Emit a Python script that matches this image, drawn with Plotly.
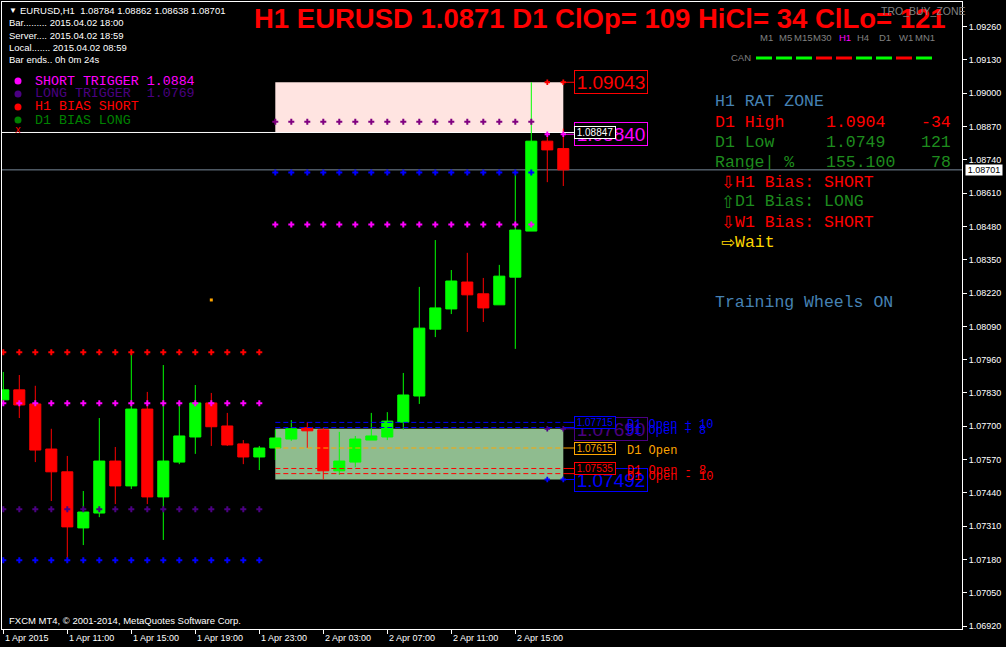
import pandas as pd
import plotly.graph_objects as go

# ------------------------------------------------------------------ data
symbol = "EURUSD"
bar_start = "2015-04-01 07:00"          # first visible H1 bar

opens = [1.07803, 1.07842, 1.07787, 1.07611, 1.07522, 1.07303, 1.07361, 1.07564, 1.07467, 1.07767,
         1.07424, 1.07560, 1.07658, 1.07791, 1.07701, 1.07631, 1.07580, 1.07615, 1.07650, 1.07694,
         1.07686, 1.07526, 1.07560, 1.07646, 1.07658, 1.07716, 1.07818, 1.08079, 1.08158, 1.08263,
         1.08217, 1.08174, 1.08282, 1.08462, 1.08813, 1.08784]
highs = [1.07912, 1.07900, 1.07858, 1.07690, 1.07584, 1.07447, 1.07732, 1.07619, 1.07986, 1.07834,
         1.07939, 1.07791, 1.07861, 1.07830, 1.07752, 1.07646, 1.07623, 1.07686, 1.07724, 1.07716,
         1.07694, 1.07678, 1.07662, 1.07752, 1.07755, 1.07908, 1.08244, 1.08427, 1.08310, 1.08377,
         1.08279, 1.08330, 1.08681, 1.09043, 1.08847, 1.08862]
lows = [1.07791, 1.07732, 1.07560, 1.07408, 1.07185, 1.07236, 1.07345, 1.07396, 1.07455, 1.07396,
        1.07256, 1.07552, 1.07592, 1.07623, 1.07623, 1.07552, 1.07529, 1.07568, 1.07643, 1.07615,
        1.07492, 1.07510, 1.07540, 1.07646, 1.07646, 1.07686, 1.07787, 1.08048, 1.08138, 1.08068,
        1.08107, 1.08174, 1.08002, 1.08462, 1.08653, 1.08638]
closes = [1.07842, 1.07783, 1.07607, 1.07522, 1.07307, 1.07365, 1.07564, 1.07467, 1.07767, 1.07424,
          1.07564, 1.07662, 1.07791, 1.07698, 1.07627, 1.07580, 1.07615, 1.07654, 1.07690, 1.07682,
          1.07526, 1.07564, 1.07650, 1.07662, 1.07720, 1.07822, 1.08083, 1.08162, 1.08267, 1.08213,
          1.08162, 1.08286, 1.08466, 1.08813, 1.08779, 1.08701]

# daily levels
d1_open = 1.07615
d1_high = 1.09043
d1_low = 1.07492
short_trigger = 1.08840
long_trigger = 1.07690
short_zone_floor = 1.08847
day_first_bar = 17                     # 2 Apr 00:00

# dotted indicator rows
dots_left_bars = (0, 16)
dots_left_levels = [1.07989, 1.07790, 1.07376, 1.07177]
dots_left_colors = ["#FF0000", "#FF00FF", "#4B0082", "#0000FF"]
dots_right_bars = (17, 33)
dots_right_levels = [1.08889, 1.08691, 1.08488]
dots_right_colors = ["#800080", "#0000FF", "#FF00FF"]
dots_last_bars = (34, 35)
dots_last_levels = [d1_high, short_trigger, long_trigger, d1_low]
dots_last_colors = ["#FF0000", "#FF00FF", "#4B0082", "#0000FF"]
signal_bar, signal_price = 13, 1.08193

# D1 open offset lines
open_lines = [1.07715, 1.07695, 1.07615, 1.07535, 1.07515]
open_line_texts = ["D1 Open + 10", "D1 Open + 8", "D1 Open", "D1 Open - 8", "D1 Open - 10"]
open_line_colors = ["#0000FF", "#0000FF", "#FFA500", "#FF0000", "#FF0000"]
open_line_boxed = [True, False, True, True, False]

# axes
y_ticks = [1.06920, 1.07050, 1.07180, 1.07310, 1.07440, 1.07570, 1.07700, 1.07830, 1.07960,
           1.08090, 1.08220, 1.08350, 1.08480, 1.08610, 1.08740, 1.08870, 1.09000, 1.09130, 1.09260]
x_tick_labels = ["1 Apr 2015", "1 Apr 11:00", "1 Apr 15:00", "1 Apr 19:00", "1 Apr 23:00",
                 "2 Apr 03:00", "2 Apr 07:00", "2 Apr 11:00", "2 Apr 15:00"]
y_range = (1.069083, 1.093564)

# panel texts
title_text = "H1 EURUSD 1.0871 D1 ClOp= 109 HiCl= 34 ClLo= 121"
legend_items = ["SHORT TRIGGER 1.0884", "LONG TRIGGER  1.0769", "H1 BIAS SHORT", "D1 BIAS LONG"]
legend_colors = ["#FF00FF", "#4B0082", "#FF0000", "#008000"]
tf_labels = ["M1", "M5", "M15", "M30", "H1", "H4", "D1", "W1", "MN1"]
tf_can_colors = ["#00FF00", "#00FF00", "#00FF00", "#FF0000", "#FF0000", "#00FF00", "#00FF00", "#FF0000", "#00FF00"]
rat_rows = [("D1 High", "1.0904", "-34"), ("D1 Low", "1.0749", "121"), ("Range| %", "155.100", "78")]
rat_colors = ["#FF0000", "#1E8C1E", "#1E8C1E"]
bias_rows = [("⇩", "H1 Bias: SHORT", "#FF0000"), ("⇧", "D1 Bias: LONG", "#1E8C1E"),
             ("⇩", "W1 Bias: SHORT", "#FF0000"), ("⇨", "Wait", "#FFD700")]

# ------------------------------------------------------------------ layout geometry
W, H = 1006, 647
PL, PR, PT, PB = 2, 962, 2, 629          # plot area in pixels
PX_PER_BAR = 16.0
FIRST_BAR_PX = 3.3
SANS = "Liberation Sans"
MONO = "Liberation Mono"

times = pd.date_range(bar_start, periods=len(opens), freq="h")
x_lo = times[0] - pd.Timedelta(hours=(FIRST_BAR_PX - PL) / PX_PER_BAR)
x_hi = x_lo + pd.Timedelta(hours=(PR - PL) / PX_PER_BAR)


def time_at(px):
    return x_lo + pd.Timedelta(hours=(px - PL) / PX_PER_BAR)


def pxx(px):
    return (px - PL) / (PR - PL)


def pxy(py):
    return (PB - py) / (PB - PT)


fig = go.Figure()
shapes = []
anns = []


def txt(text, x, y, color, size, family=SANS, xanchor="left", **kw):
    anns.append(dict(text=text, x=pxx(x), y=pxy(y), xref="paper", yref="paper",
                     xanchor=xanchor, yanchor="middle", showarrow=False,
                     font=dict(family=family, size=size, color=color), **kw))


# zone boxes
shapes.append(dict(type="rect", xref="x", yref="y", x0=times[day_first_bar], x1=times[-1],
                   y0=short_zone_floor, y1=d1_high, fillcolor="#FFE4E1", line_width=0, layer="below"))
shapes.append(dict(type="rect", xref="x", yref="y", x0=times[day_first_bar], x1=times[-1],
                   y0=d1_low, y1=long_trigger, fillcolor="#8FBC8F", line_width=0, layer="below"))
# current price line
shapes.append(dict(type="line", xref="paper", yref="y", x0=0, x1=1, y0=closes[-1], y1=closes[-1],
                   line=dict(color="#778899", width=1), layer="below"))
label_px = 574
# white level line
shapes.append(dict(type="line", xref="x", yref="y", x0=x_lo, x1=time_at(label_px),
                   y0=short_zone_floor, y1=short_zone_floor, line=dict(color="#FFFFFF", width=1), layer="below"))

# D1 open lines
for lvl, col in zip(open_lines, open_line_colors):
    fig.add_trace(go.Scatter(x=[times[day_first_bar], times[-1]], y=[lvl, lvl], mode="lines",
                             line=dict(color=col, width=1, dash="5px,3px"), hoverinfo="skip"))
    fig.add_trace(go.Scatter(x=[times[-1], time_at(label_px)], y=[lvl, lvl], mode="lines",
                             line=dict(color=col, width=1), hoverinfo="skip"))
for lvl, col in [(d1_high, "#FF0000"), (short_trigger, "#FF00FF"), (long_trigger, "#4B0082"), (d1_low, "#0000FF")]:
    fig.add_trace(go.Scatter(x=[times[-1], time_at(label_px)], y=[lvl, lvl], mode="lines",
                             line=dict(color=col, width=1), hoverinfo="skip"))

# candles
fig.add_trace(go.Candlestick(
    x=times, open=opens, high=highs, low=lows, close=closes,
    increasing=dict(line=dict(color="#00FF00", width=1), fillcolor="#00FF00"),
    decreasing=dict(line=dict(color="#FF0000", width=1), fillcolor="#FF0000"),
    whiskerwidth=0, hoverinfo="skip"))

# dotted rows
def dot_row(bars, level, color, size=5):
    xs = list(times[bars[0]:bars[1] + 1])
    fig.add_trace(go.Scatter(x=xs, y=[level] * len(xs), mode="markers",
                             marker=dict(symbol="cross", size=size, color=color, line_width=0),
                             hoverinfo="skip"))


for lvl, col in zip(dots_left_levels, dots_left_colors):
    dot_row(dots_left_bars, lvl, col)
for lvl, col in zip(dots_right_levels, dots_right_colors):
    dot_row(dots_right_bars, lvl, col)
for lvl, col in zip(dots_last_levels, dots_last_colors):
    dot_row(dots_last_bars, lvl, col, size=4.5)
fig.add_trace(go.Scatter(x=[times[signal_bar]], y=[signal_price], mode="markers",
                         marker=dict(symbol="square", size=3, color="#FFA500"), hoverinfo="skip"))

# ------------------------------------------------------------------ price labels right of bars
big_labels = [(d1_high, "#FF0000"), (short_trigger, "#FF00FF"), (long_trigger, "#4B0082"), (d1_low, "#0000FF")]
for lvl, col in big_labels:
    anns.append(dict(text=f"{lvl:.5f}", x=time_at(label_px), y=lvl, xref="x", yref="y",
                     xanchor="left", yanchor="middle", showarrow=False, width=70, height=20,
                     bordercolor=col, borderwidth=1, borderpad=1,
                     font=dict(family=SANS, size=19, color=col)))
small_labels = [(short_zone_floor, "#FFFFFF")] + [(l, c) for l, c, b in zip(open_lines, open_line_colors, open_line_boxed) if b]
for lvl, col in small_labels:
    anns.append(dict(text=f"{lvl:.5f}", x=time_at(label_px), y=lvl, xref="x", yref="y",
                     xanchor="left", yanchor="middle", showarrow=False, width=38, height=9,
                     bordercolor=col, borderwidth=1, borderpad=1, bgcolor="#000000",
                     font=dict(family=SANS, size=10, color=col)))
for lvl, t, col in zip(open_lines, open_line_texts, open_line_colors):
    anns.append(dict(text=t, x=time_at(625), y=lvl, xref="x", yref="y", yshift=-3,
                     xanchor="left", yanchor="middle", showarrow=False,
                     font=dict(family=MONO, size=12, color=col)))

# current price tag on axis
anns.append(dict(text=f"{closes[-1]:.5f}", x=pxx(965), y=closes[-1], xref="paper", yref="y",
                 xanchor="left", yanchor="middle", showarrow=False, bgcolor="#FFFFFF",
                 width=36, height=10, borderpad=0, font=dict(family=SANS, size=9, color="#000000")))

# x tick labels (left aligned at tick, as in MT4)
for t, lab in zip(times[::4], x_tick_labels):
    anns.append(dict(text=lab, x=t, y=pxy(638), xref="x", yref="paper", xanchor="left",
                     yanchor="middle", showarrow=False, font=dict(family=SANS, size=9, color="#FFFFFF")))

# ------------------------------------------------------------------ texts
txt("▼", 7, 10, "#FFFFFF", 8)
txt(f"{symbol},H1  {opens[-1]:.5f} {highs[-1]:.5f} {lows[-1]:.5f} {closes[-1]:.5f}", 18, 10, "#FFFFFF", 9.5)
txt("Bar......... 2015.04.02 18:00", 7, 23, "#FFFFFF", 9.5)
txt("Server.... 2015.04.02 18:59", 7, 35, "#FFFFFF", 9.5)
txt("Local....... 2015.04.02 08:59", 7, 47, "#FFFFFF", 9.5)
txt("Bar ends.. 0h 0m 24s", 7, 59, "#FFFFFF", 9.5)
txt("FXCM MT4, © 2001-2014, MetaQuotes Software Corp.", 7, 620, "#FFFFFF", 9.5)

txt(f"<b>{title_text}</b>", 252, 19, "#FF0000", 27.5)
txt("TRO_BUY_ZONE", 879, 11, "#808080", 10.5)
tf_centers = [766, 785, 803, 822, 845, 863, 885, 906, 925]
for lab, cx in zip(tf_labels, tf_centers):
    txt(lab, cx, 37, "#FF00FF" if lab == "H1" else "#808080", 9.5, xanchor="center")
txt("CAN", 753, 58, "#808080", 9.5, xanchor="right")
for i, col in enumerate(tf_can_colors):
    shapes.append(dict(type="line", xref="paper", yref="paper", x0=pxx(756 + 20 * i), x1=pxx(772 + 20 * i),
                       y0=pxy(58), y1=pxy(58), line=dict(color=col, width=3)))

# legend
for i, (lab, col) in enumerate(zip(legend_items, legend_colors)):
    yy = 81 + 13 * i
    shapes.append(dict(type="circle", xref="paper", yref="paper", x0=pxx(14.5), x1=pxx(21.5),
                       y0=pxy(yy + 3.5), y1=pxy(yy - 3.5), fillcolor=col, line_width=0))
    txt(lab, 33, yy, col, 13.3, family=MONO)
txt("x", 18, 131, "#FF0000", 10, family=MONO, xanchor="center")

# right panel
txt("H1 RAT ZONE", 713, 102, "#4682B4", 16.5, family=MONO)
for i, ((a, b, c), col) in enumerate(zip(rat_rows, rat_colors)):
    yy = 122 + 20 * i
    txt(a, 713, yy, col, 16.5, family=MONO)
    txt(b, 824, yy, col, 16.5, family=MONO)
    txt(c, 953, yy, col, 16.5, family=MONO, xanchor="right")
for i, (arrow, t, col) in enumerate(bias_rows):
    yy = 182 + 20 * i
    txt(arrow, 719, yy, col, 17, family="DejaVu Sans")
    txt(t, 733, yy, col, 16.5, family=MONO)
txt("Training Wheels ON", 713, 302, "#4682B4", 16.5, family=MONO)

# ------------------------------------------------------------------ layout
fig.update_layout(
    width=W, height=H,
    margin=dict(l=PL, r=W - PR, t=PT, b=H - PB),
    paper_bgcolor="#000000", plot_bgcolor="#000000",
    showlegend=False,
    boxgap=0.31, boxgroupgap=0,
    font=dict(family=SANS, color="#FFFFFF"),
    shapes=shapes, annotations=anns,
    xaxis=dict(type="date", range=[x_lo, x_hi], rangeslider=dict(visible=False),
               showgrid=False, zeroline=False, showline=True, mirror=True, linecolor="#FFFFFF",
               linewidth=1, ticks="outside", ticklen=4, tickcolor="#FFFFFF",
               tickvals=list(times[::4]), showticklabels=False, fixedrange=True),
    yaxis=dict(range=list(y_range), side="right", showgrid=False, zeroline=False,
               showline=True, mirror=True, linecolor="#FFFFFF", linewidth=1,
               ticks="outside", ticklen=4, tickcolor="#FFFFFF",
               tickvals=y_ticks, ticktext=[f"{v:.5f}" for v in y_ticks],
               tickfont=dict(family=SANS, size=9, color="#FFFFFF"), fixedrange=True),
)

fig.write_html("out.html", config={"displayModeBar": False},
               post_script="document.body.style.margin='0';document.body.style.background='#000';")
